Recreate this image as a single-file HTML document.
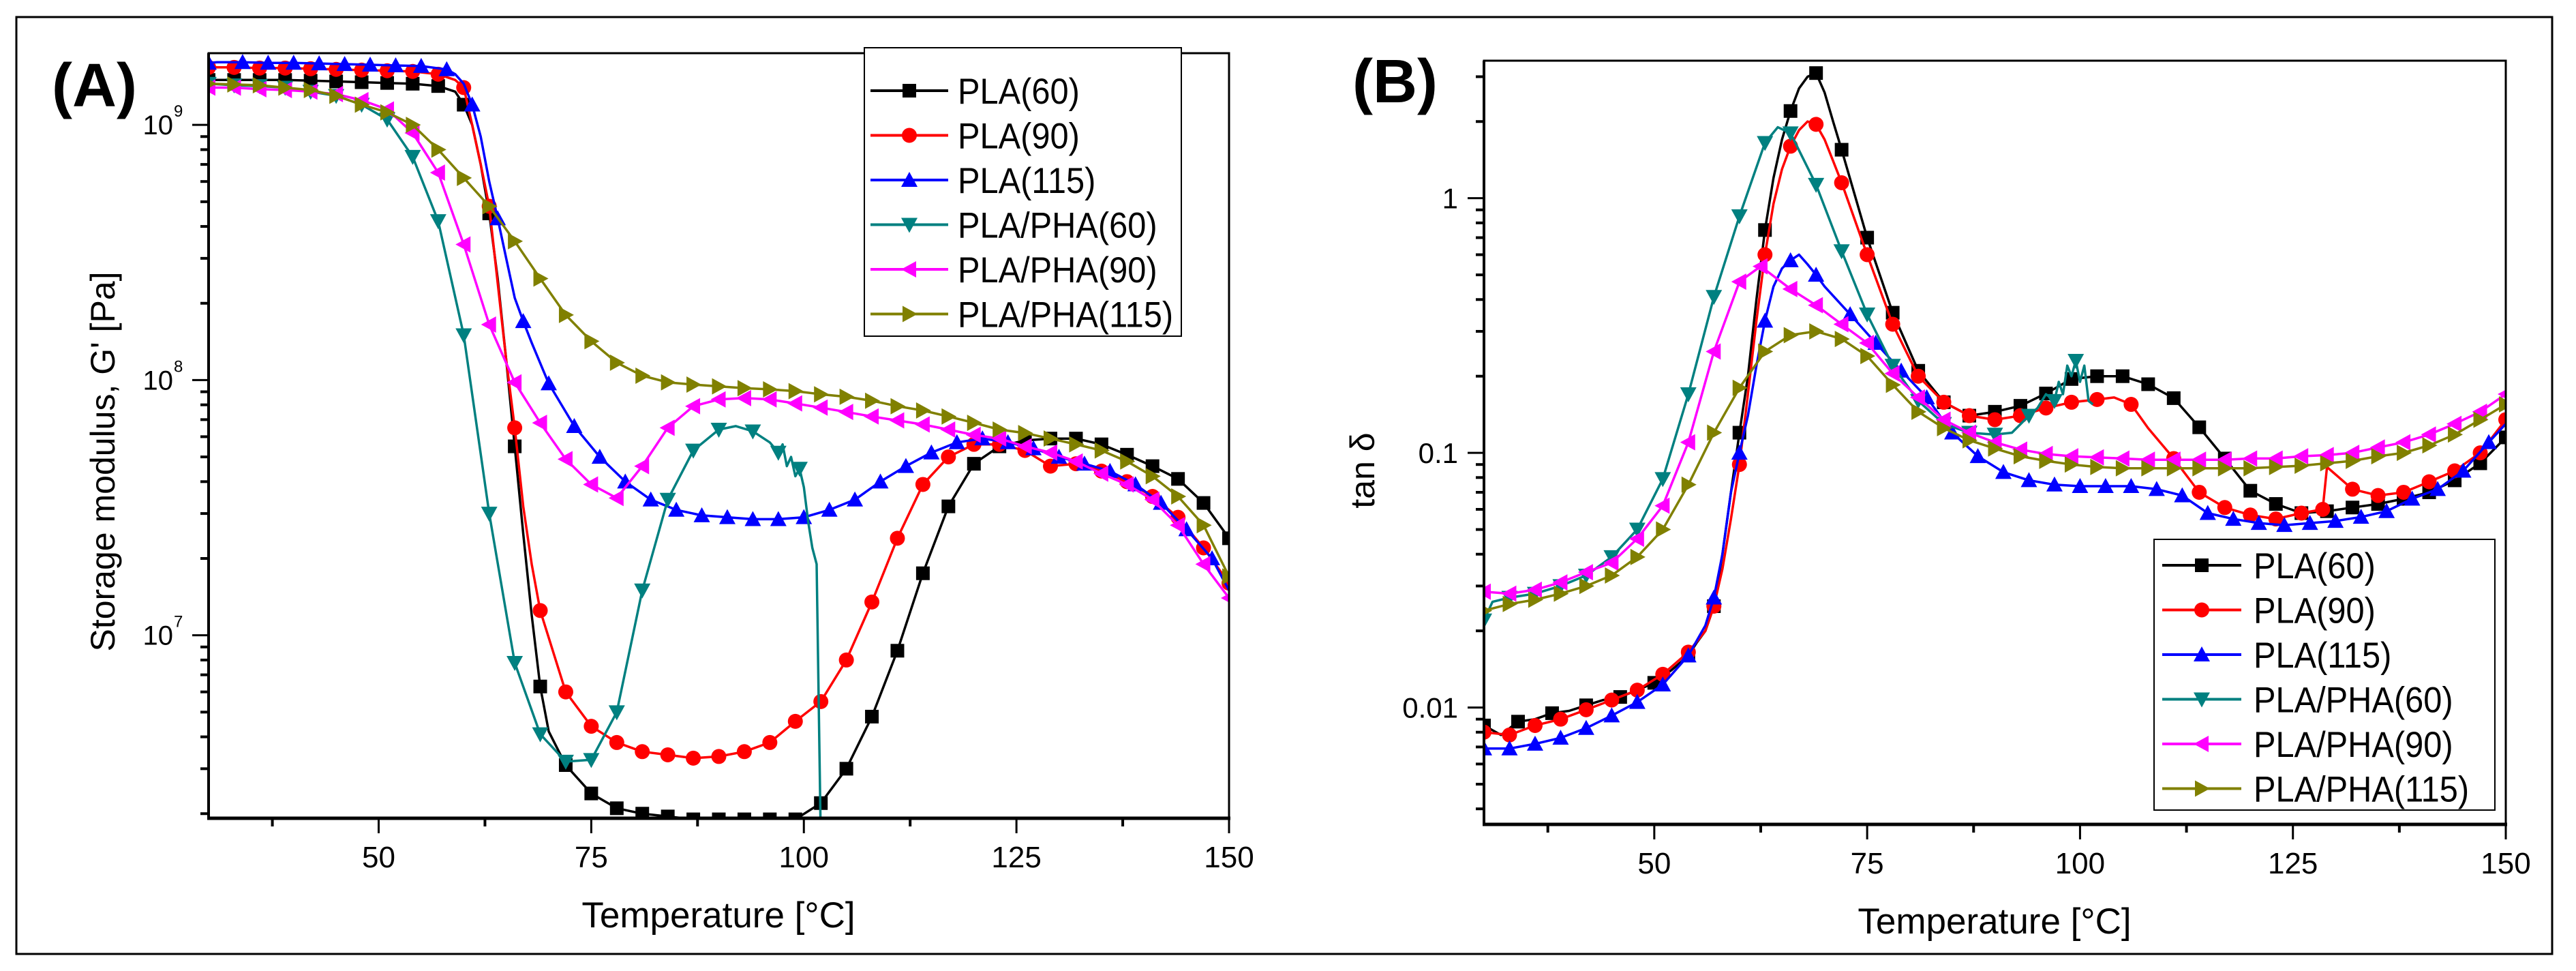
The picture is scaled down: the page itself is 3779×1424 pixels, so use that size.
<!DOCTYPE html>
<html><head><meta charset="utf-8"><style>
html,body{margin:0;padding:0;background:#fff;}
svg{display:block;font-family:"Liberation Sans",Arial,sans-serif;}
</style></head><body>
<svg id="chart" width="3779" height="1424" viewBox="0 0 3779 1424" xmlns="http://www.w3.org/2000/svg">
<rect x="0" y="0" width="3779" height="1424" fill="#fff"/>
<rect x="24" y="25" width="3720" height="1374" fill="none" stroke="#000" stroke-width="3"/>
<defs>
<clipPath id="clipA"><rect x="306" y="78" width="1497" height="1122"/></clipPath>
<clipPath id="clipB"><rect x="2177" y="89" width="1499" height="1120"/></clipPath>
</defs>
<g id="panelA"></g>
<g id="panelB"></g>
</svg>
<script>
// ---------- Panel A data: storage modulus G' [Pa] ----------
const A_PLA60_T = [30,33,36,39,42,45,48,51,54,57,59,60,61,62,63,64,65,66,67,68,69,70,72,75,78,81,84,87,90,93,96,99,102,105,108,111,114,117,120,123,126,129,132,135,138,141,144,147,150];
const A_PLA60_G = [1.5e9,1.5e9,1.5e9,1.5e9,1.49e9,1.48e9,1.47e9,1.46e9,1.45e9,1.42e9,1.35e9,1.2e9,1.0e9,7e8,4.5e8,2.5e8,1.2e8,5.5e7,2.5e7,1.2e7,6.3e6,4.2e6,3.1e6,2.4e6,2.1e6,2.0e6,1.95e6,1.9e6,1.9e6,1.9e6,1.9e6,1.9e6,2.2e6,3.0e6,4.8e6,8.7e6,1.75e7,3.2e7,4.7e7,5.5e7,5.8e7,5.9e7,5.9e7,5.6e7,5.1e7,4.6e7,4.1e7,3.3e7,2.4e7];
const A_PLA90_T = [30,33,36,39,42,45,48,51,54,57,59,60,61,62,63,64,65,66,67,68,69,72,75,78,81,84,87,90,93,96,99,102,105,108,111,114,117,120,123,126,129,132,135,138,141,144,147,150];
const A_PLA90_G = [1.68e9,1.68e9,1.67e9,1.67e9,1.66e9,1.65e9,1.64e9,1.63e9,1.62e9,1.58e9,1.5e9,1.4e9,1.0e9,7e8,4.8e8,2.4e8,1.2e8,6.5e7,3.2e7,1.9e7,1.25e7,6.0e6,4.4e6,3.8e6,3.5e6,3.4e6,3.3e6,3.35e6,3.5e6,3.8e6,4.6e6,5.5e6,8.0e6,1.35e7,2.4e7,3.9e7,5.0e7,5.6e7,5.6e7,5.3e7,4.6e7,4.7e7,4.4e7,4.0e7,3.5e7,2.9e7,2.2e7,1.6e7];
const A_PLA115_T = [30,31,34,37,40,43,46,49,52,55,58,59,60,61,62,63,64,65,66,67,68,70,73,76,79,82,85,88,91,94,97,100,103,106,109,112,115,118,121,124,127,130,133,136,139,142,145,148,150];
const A_PLA115_G = [1.75e9,1.76e9,1.76e9,1.75e9,1.75e9,1.74e9,1.73e9,1.72e9,1.71e9,1.7e9,1.65e9,1.58e9,1.45e9,1.2e9,9e8,6e8,4.3e8,3e8,2.1e8,1.7e8,1.4e8,9.7e7,6.6e7,5.0e7,4.0e7,3.4e7,3.1e7,2.95e7,2.9e7,2.85e7,2.85e7,2.9e7,3.1e7,3.4e7,4.0e7,4.6e7,5.2e7,5.7e7,5.9e7,5.7e7,5.4e7,5.0e7,4.7e7,4.4e7,3.9e7,3.3e7,2.6e7,2.0e7,1.5e7];
const A_PHA60_T = [30,33,36,39,42,45,48,51,54,57,60,63,66,69,72,75,78,81,84,87,90,92,94,96,97,97.5,98,98.5,99,99.5,100,100.5,101,101.5,102,102.2];
const A_PHA60_G = [1.45e9,1.43e9,1.42e9,1.4e9,1.35e9,1.3e9,1.2e9,1.05e9,7.5e8,4.2e8,1.5e8,3.0e7,7.8e6,4.1e6,3.2e6,3.25e6,5.0e6,1.5e7,3.4e7,5.3e7,6.4e7,6.6e7,6.3e7,5.7e7,5.2e7,5.6e7,4.6e7,5.0e7,4.2e7,4.5e7,3.8e7,2.8e7,2.2e7,1.9e7,1.5e6,1.5e6];
const A_PHA90_T = [30,33,36,39,42,45,48,51,54,57,60,63,66,69,72,75,78,81,84,87,90,93,96,99,102,105,108,111,114,117,120,123,126,129,132,135,138,141,144,147,150];
const A_PHA90_G = [1.4e9,1.4e9,1.38e9,1.37e9,1.35e9,1.32e9,1.25e9,1.15e9,9.3e8,6.5e8,3.4e8,1.65e8,9.8e7,6.8e7,4.9e7,3.9e7,3.45e7,4.6e7,6.5e7,7.9e7,8.4e7,8.5e7,8.4e7,8.1e7,7.8e7,7.5e7,7.2e7,6.95e7,6.7e7,6.4e7,6.1e7,5.9e7,5.5e7,5.2e7,4.8e7,4.3e7,3.9e7,3.4e7,2.7e7,1.9e7,1.4e7];
const A_PHA115_T = [30,33,36,39,42,45,48,51,54,57,60,63,66,69,72,75,78,81,84,87,90,93,96,99,102,105,108,111,114,117,120,123,126,129,132,135,138,141,144,147,150];
const A_PHA115_G = [1.45e9,1.44e9,1.43e9,1.4e9,1.37e9,1.3e9,1.2e9,1.12e9,1.0e9,8.0e8,6.2e8,4.8e8,3.5e8,2.5e8,1.8e8,1.42e8,1.17e8,1.04e8,9.8e7,9.6e7,9.45e7,9.3e7,9.2e7,9.05e7,8.8e7,8.6e7,8.3e7,7.9e7,7.6e7,7.2e7,6.8e7,6.4e7,6.2e7,5.9e7,5.6e7,5.3e7,4.8e7,4.2e7,3.5e7,2.7e7,1.7e7];

// ---------- Panel B data: tan delta ----------
const B_PLA60_T = [30,32,34,36,38,40,42,44,46,48,50,52,54,55,56,57,58,59,60,61,62,63,64,65,66,67,68,69,70,71,72,75,78,81,84,87,90,93,96,99,102,105,108,111,114,117,120,123,126,129,132,135,138,141,144,147,150];
const B_PLA60_V = [0.0085,0.0078,0.0088,0.009,0.0095,0.0097,0.0102,0.0107,0.011,0.0117,0.0125,0.014,0.016,0.018,0.02,0.025,0.04,0.07,0.12,0.2,0.4,0.75,1.2,1.7,2.2,2.7,3.0,3.1,2.6,2.0,1.55,0.7,0.355,0.21,0.158,0.14,0.145,0.153,0.171,0.195,0.2,0.2,0.186,0.164,0.126,0.095,0.071,0.063,0.058,0.059,0.061,0.063,0.066,0.07,0.078,0.091,0.115];
const B_PLA90_T = [30,33,36,39,42,45,48,51,54,56,57,58,59,60,61,62,63,64,65,66,67,68,69,70,71,72,75,78,81,84,87,90,93,96,99,102,104,106,108,111,114,117,120,123,126,128.5,129,132,135,138,141,144,147,150];
const B_PLA90_V = [0.008,0.0078,0.0085,0.009,0.0098,0.0107,0.0117,0.0135,0.0165,0.02,0.025,0.035,0.055,0.09,0.17,0.33,0.6,0.95,1.3,1.6,1.85,2.0,1.95,1.7,1.4,1.15,0.6,0.32,0.2,0.158,0.14,0.135,0.14,0.15,0.158,0.162,0.165,0.155,0.125,0.095,0.07,0.061,0.057,0.055,0.058,0.06,0.088,0.072,0.068,0.07,0.077,0.085,0.1,0.135];
const B_PLA115_T = [30,33,36,39,42,45,48,51,54,56,57,58,59,60,61,62,63,64,65,66,67,68,69,70,73,76,79,82,85,88,91,94,97,100,103,106,109,112,115,118,121,124,127,130,133,136,139,142,145,148,150];
const B_PLA115_V = [0.0069,0.0069,0.0072,0.0076,0.0083,0.0093,0.0105,0.0123,0.016,0.021,0.027,0.04,0.07,0.1,0.14,0.22,0.33,0.45,0.53,0.57,0.6,0.55,0.5,0.45,0.35,0.27,0.21,0.165,0.12,0.097,0.084,0.078,0.075,0.074,0.074,0.074,0.072,0.068,0.058,0.055,0.053,0.052,0.053,0.054,0.056,0.059,0.066,0.072,0.085,0.11,0.13];
const B_PHA60_T = [30,31,33,36,39,42,45,48,51,54,57,60,63,64.5,66,69,72,75,78,81,84,87,90,92,94,95,96,97,97.5,98,98.5,99,99.5,100,100.5,101,101.5];
const B_PHA60_V = [0.022,0.026,0.027,0.028,0.03,0.033,0.039,0.05,0.079,0.17,0.41,0.85,1.65,1.9,1.8,1.13,0.62,0.35,0.22,0.16,0.13,0.12,0.118,0.12,0.14,0.15,0.17,0.16,0.19,0.17,0.22,0.2,0.23,0.19,0.22,0.16,0.155];
const B_PHA90_T = [30,33,36,39,42,45,48,51,54,57,60,62.5,66,69,72,75,78,81,84,87,90,93,96,99,102,105,108,111,114,117,120,123,126,129,132,135,138,141,144,147,150];
const B_PHA90_V = [0.0285,0.028,0.029,0.031,0.034,0.037,0.046,0.062,0.11,0.25,0.47,0.54,0.44,0.38,0.32,0.27,0.205,0.165,0.135,0.12,0.11,0.103,0.099,0.097,0.096,0.095,0.094,0.094,0.094,0.094,0.095,0.095,0.097,0.098,0.1,0.105,0.11,0.118,0.13,0.145,0.17];
const B_PHA115_T = [30,33,36,39,42,45,48,51,54,57,60,63,66,69,72,75,78,81,84,87,90,93,96,99,102,105,108,111,114,117,120,123,126,129,132,135,138,141,144,147,150];
const B_PHA115_V = [0.024,0.0255,0.0265,0.028,0.03,0.033,0.039,0.05,0.075,0.12,0.18,0.25,0.29,0.3,0.28,0.24,0.185,0.145,0.125,0.112,0.104,0.097,0.093,0.09,0.088,0.087,0.087,0.087,0.087,0.087,0.087,0.088,0.089,0.091,0.093,0.097,0.1,0.107,0.118,0.135,0.155];

const seriesNames = ["PLA(60)","PLA(90)","PLA(115)","PLA/PHA(60)","PLA/PHA(90)","PLA/PHA(115)"];
const seriesColors = ["#000000","#ff0000","#0000ff","#008080","#ff00ff","#808000"];
const seriesMarkers = ["square","circle","up","down","left","right"];
const xTicks = [50,75,100,125,150];
const xMinor = [37.5,62.5,87.5,112.5,137.5];
const A_yMajor = [1e7,1e8,1e9];
const B_yMajor = [0.01,0.1,1];
const B_yLabels = ["0.01","0.1","1"];

const NS = "http://www.w3.org/2000/svg";
function mk(tag, attrs, parent){
  const e = document.createElementNS(NS, tag);
  for (const k in attrs) e.setAttribute(k, attrs[k]);
  if (parent) parent.appendChild(e);
  return e;
}
function marker(g, type, cx, cy, color){
  const s = 10;
  let e;
  if (type === "square") e = mk("rect",{x:cx-s,y:cy-s,width:2*s,height:2*s,fill:color},g);
  else if (type === "circle") e = mk("circle",{cx:cx,cy:cy,r:s+1,fill:color},g);
  else {
    let p;
    if (type==="up") p=[[cx,cy-s-2],[cx+s+2,cy+s],[cx-s-2,cy+s]];
    else if (type==="down") p=[[cx,cy+s+2],[cx+s+2,cy-s],[cx-s-2,cy-s]];
    else if (type==="left") p=[[cx-s-2,cy],[cx+s,cy-s-2],[cx+s,cy+s+2]];
    else p=[[cx+s+2,cy],[cx-s,cy-s-2],[cx-s,cy+s+2]];
    e = mk("polygon",{points:p.map(q=>q.join(",")).join(" "),fill:color},g);
  }
  
  
  return e;
}

function drawPanel(root, cfg){
  const X0=cfg.x0, X1=cfg.x1, Y0=cfg.y0, Y1=cfg.y1;
  const xs = t => X0 + (t-30)/(150-30)*(X1-X0);
  const ys = v => Y1 - (Math.log10(v)-cfg.lmin)/(cfg.lmax-cfg.lmin)*(Y1-Y0);
  // series
  const sg = mk("g",{"clip-path":"url(#"+cfg.clip+")"},root);
  
  
  cfg.series.forEach((s,i)=>{
    const g = mk("g",{},sg);
    
    
    const n = Math.min(s.T.length, s.V.length);
    const pts = [];
    for (let k=0;k<n;k++) pts.push(xs(s.T[k]).toFixed(1)+","+ys(s.V[k]).toFixed(1));
    const pl = mk("polyline",{points:pts.join(" "),fill:"none",stroke:seriesColors[i],"stroke-width":3.5,"stroke-linejoin":"round"},g);
    
    
    let last = -100;
    for (let k=0;k<n;k++){
      if (s.T[k]-last >= 2.5){ marker(g, seriesMarkers[i], xs(s.T[k]), ys(s.V[k]), seriesColors[i]); last = s.T[k]; }
    }
  });
  // frame
  const fr = mk("rect",{x:X0,y:Y0,width:X1-X0,height:Y1-Y0,fill:"none",stroke:"#000","stroke-width":3},root);
  
  
  const ax = mk("line",{x1:X0-2,y1:Y1,x2:X1+2,y2:Y1,stroke:"#000","stroke-width":5},root);
  
  
  const ay = mk("line",{x1:X0,y1:Y0,x2:X0,y2:Y1+2,stroke:"#000","stroke-width":4},root);
  
  
  // x ticks
  xTicks.forEach(t=>{
    const l = mk("line",{x1:xs(t),y1:Y1,x2:xs(t),y2:Y1+22,stroke:"#000","stroke-width":3},root);
    
    
    const tx = mk("text",{x:xs(t),y:Y1+72,"font-size":44,"text-anchor":"middle",fill:"#000"},root);
    tx.textContent = String(t);
    
    
  });
  xMinor.forEach(t=>{
    const l = mk("line",{x1:xs(t),y1:Y1,x2:xs(t),y2:Y1+12,stroke:"#000","stroke-width":4},root);
    
    
  });
  // y ticks
  for (let d=Math.floor(cfg.lmin); d<=Math.ceil(cfg.lmax); d++){
    for (let m=1;m<10;m++){
      const lv = d + Math.log10(m);
      if (lv < cfg.lmin || lv > cfg.lmax) continue;
      const y = ys(Math.pow(10,lv));
      const len = m===1 ? 24 : 12;
      const l = mk("line",{x1:X0-len,y1:y,x2:X0,y2:y,stroke:"#000","stroke-width":m===1?3:4},root);
      
      
    }
  }
  cfg.yMajor.forEach((v,i)=>{
    const y = ys(v);
    if (cfg.powerLabels){
      const tx = mk("text",{x:X0-52,y:y+14,"font-size":40,"text-anchor":"end",fill:"#000"},root);
      tx.textContent = "10";
      
      
      const sp = mk("text",{x:X0-51,y:y-12,"font-size":24,"text-anchor":"start",fill:"#000"},root);
      sp.textContent = String(Math.round(Math.log10(v)));
      
      
    } else {
      const tx = mk("text",{x:X0-38,y:y+15,"font-size":42,"text-anchor":"end",fill:"#000"},root);
      tx.textContent = cfg.yLabels[i];
      
      
    }
  });
  // titles
  const xt = mk("text",{x:(cfg.xTitleX),y:cfg.xTitleY,"font-size":53,"text-anchor":"middle",fill:"#000"},root);
  xt.textContent = "Temperature [°C]";
  
  
  const yt = mk("text",{x:0,y:0,"font-size":cfg.yTitleSize,"text-anchor":"middle",fill:"#000",transform:"translate("+cfg.yTitleX+","+cfg.yTitleY+") rotate(-90)"},root);
  yt.textContent = cfg.yTitle;
  
  
  const pl = mk("text",{x:cfg.labX,y:cfg.labY,"font-size":90,"font-weight":"bold",fill:"#000"},root);
  pl.textContent = cfg.panelLabel;
  
  
  // legend
  const lg = mk("g",{},root);
  
  
  const L = cfg.legend;
  const lb = mk("rect",{x:L.x,y:L.y,width:L.w,height:L.h,fill:"#fff",stroke:"#000","stroke-width":2},lg);
  
  
  seriesNames.forEach((nm,i)=>{
    const cy = L.row0 + i*65.5;
    const eg = mk("g",{},lg);
    
    
    mk("line",{x1:L.lx0,y1:cy,x2:L.lx1,y2:cy,stroke:seriesColors[i],"stroke-width":4},eg);
    marker(eg, seriesMarkers[i], (L.lx0+L.lx1)/2, cy, seriesColors[i]);
    const t = mk("text",{x:0,y:0,"font-size":53,fill:"#000",transform:"translate("+L.tx+","+(cy+19)+") scale(0.92,1)"},eg);
    t.textContent = nm;
    
    
  });
}

const sA = [
 {T:A_PLA60_T,V:A_PLA60_G},{T:A_PLA90_T,V:A_PLA90_G},{T:A_PLA115_T,V:A_PLA115_G},
 {T:A_PHA60_T,V:A_PHA60_G},{T:A_PHA90_T,V:A_PHA90_G},{T:A_PHA115_T,V:A_PHA115_G}];
const sB = [
 {T:B_PLA60_T,V:B_PLA60_V},{T:B_PLA90_T,V:B_PLA90_V},{T:B_PLA115_T,V:B_PLA115_V},
 {T:B_PHA60_T,V:B_PHA60_V},{T:B_PHA90_T,V:B_PHA90_V},{T:B_PHA115_T,V:B_PHA115_V}];

drawPanel(document.getElementById("panelA"),{
  x0:306,x1:1803,y0:78,y1:1200,lmin:6.283,lmax:9.281,clip:"clipA",series:sA,
  yMajor:A_yMajor,powerLabels:true,
  xTitleX:1054,xTitleY:1360,yTitle:"Storage modulus, G' [Pa]",yTitleX:168,yTitleY:677,yTitleSize:50,
  panelLabel:"(A)",labX:76,labY:156,
  legend:{x:1268,y:70,w:465,h:423,row0:133,lx0:1277,lx1:1391,tx:1405}
});
drawPanel(document.getElementById("panelB"),{
  x0:2177,x1:3676,y0:89,y1:1209,lmin:-2.459,lmax:0.54,clip:"clipB",series:sB,
  yMajor:B_yMajor,yLabels:B_yLabels,powerLabels:false,
  xTitleX:2926,xTitleY:1369,yTitle:"tan δ",yTitleX:2016,yTitleY:690,yTitleSize:50,
  panelLabel:"(B)",labX:1984,labY:150,
  legend:{x:3160,y:791,w:500,h:397,row0:829,lx0:3172,lx1:3288,tx:3306}
});
</script>
</body></html>
